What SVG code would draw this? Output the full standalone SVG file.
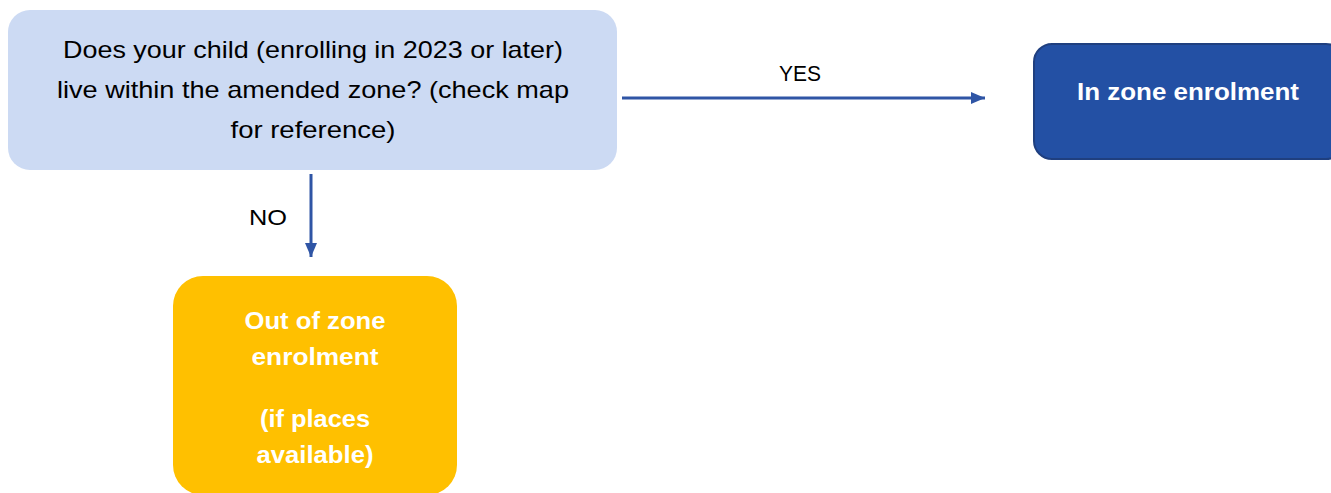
<svg xmlns="http://www.w3.org/2000/svg" width="1331" height="493" viewBox="0 0 1331 493">
<style>
.t{font-family:"Liberation Sans",Arial,sans-serif;text-anchor:middle}
.q{font-size:24px;fill:#000}
.w{font-size:24px;fill:#fff;font-weight:bold}
.lbl{font-size:22px;fill:#000}
.c{stroke:#2F55A5;stroke-width:3;fill:none}
</style>
<defs>
<marker id="ah" markerWidth="14" markerHeight="12" refX="14" refY="6" orient="auto" markerUnits="userSpaceOnUse">
<path d="M0,0 L14,6 L0,12 z" fill="#2F55A5"/>
</marker>
</defs>
<g id="q1">
<rect x="8" y="10" width="609" height="160" rx="22" fill="#CCDAF3"/>
<text class="t q" x="313" y="58" textLength="500" lengthAdjust="spacingAndGlyphs">Does your child (enrolling in 2023 or later)</text>
<text class="t q" x="313" y="98" textLength="512" lengthAdjust="spacingAndGlyphs">live within the amended zone? (check map</text>
<text class="t q" x="313" y="138" textLength="165" lengthAdjust="spacingAndGlyphs">for reference)</text>
</g>
<g id="inzone">
<rect x="1034" y="44" width="310" height="115" rx="18" fill="#2350A4" stroke="#1F3F7F" stroke-width="2"/>
<text class="t w" x="1188" y="100" textLength="222" lengthAdjust="spacingAndGlyphs">In zone enrolment</text>
</g>
<g id="outzone">
<rect x="173" y="276" width="284" height="219" rx="30" fill="#FFC000"/>
<text class="t w" x="315" y="329" textLength="141" lengthAdjust="spacingAndGlyphs">Out of zone</text>
<text class="t w" x="315" y="365" textLength="127" lengthAdjust="spacingAndGlyphs">enrolment</text>
<text class="t w" x="315" y="427" textLength="110" lengthAdjust="spacingAndGlyphs">(if places</text>
<text class="t w" x="315" y="463" textLength="117" lengthAdjust="spacingAndGlyphs">available)</text>
</g>
<g id="connectors">
<line class="c" x1="622" y1="98" x2="985" y2="98" marker-end="url(#ah)"/>
<text class="t lbl" x="800" y="81" textLength="42" lengthAdjust="spacingAndGlyphs">YES</text>
<line class="c" x1="311" y1="174" x2="311" y2="257" marker-end="url(#ah)"/>
<text class="t lbl" x="268" y="225" textLength="38" lengthAdjust="spacingAndGlyphs">NO</text>
</g>
</svg>
